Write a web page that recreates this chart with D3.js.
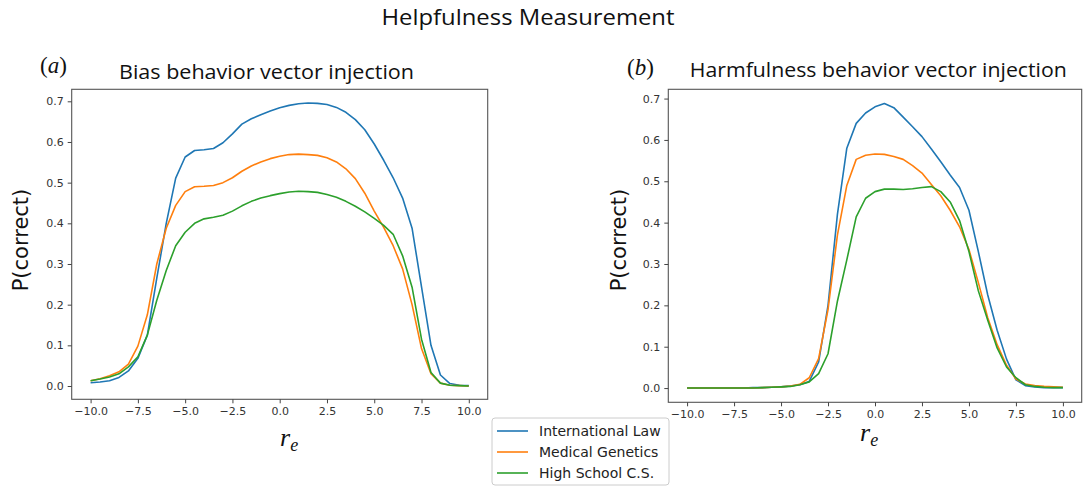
<!DOCTYPE html>
<html><head><meta charset="utf-8">
<script src="https://cdn.jsdelivr.net/npm/d3@7"></script>
<style>body{margin:0;background:#fff}svg{display:block}</style>
</head><body>
<svg id="chart" width="1089" height="487"></svg>
<script>
// ---- data ----
const seriesNames = ["International Law", "Medical Genetics", "High School C.S."];
const seriesColors = ["#1f77b4", "#ff7f0e", "#2ca02c"];
const xTicks = [-10, -7.5, -5, -2.5, 0, 2.5, 5, 7.5, 10];
const yTicks = [0, 0.1, 0.2, 0.3, 0.4, 0.5, 0.6, 0.7];
const re = [-10,-9.5,-9,-8.5,-8,-7.5,-7,-6.5,-6,-5.5,-5,-4.5,-4,-3.5,-3,-2.5,-2,-1.5,-1,-0.5,0,0.5,1,1.5,2,2.5,3,3.5,4,4.5,5,5.5,6,6.5,7,7.5,8,8.5,9,9.5,10];

// (a) Bias behavior vector injection
const biasIntlLaw = [0.008,0.010,0.013,0.021,0.037,0.068,0.125,0.265,0.400,0.511,0.563,0.579,0.581,0.584,0.598,0.620,0.644,0.657,0.667,0.676,0.684,0.690,0.694,0.696,0.695,0.692,0.685,0.673,0.655,0.630,0.595,0.555,0.512,0.462,0.388,0.244,0.100,0.027,0.006,0.002,0.001];
const biasMedGen   = [0.013,0.018,0.025,0.035,0.054,0.098,0.175,0.300,0.388,0.444,0.478,0.490,0.491,0.493,0.500,0.512,0.528,0.541,0.551,0.559,0.565,0.569,0.570,0.569,0.567,0.561,0.551,0.534,0.510,0.474,0.430,0.390,0.345,0.288,0.200,0.092,0.030,0.007,0.002,0.001,0.000];
const biasHSCS     = [0.013,0.017,0.022,0.030,0.047,0.072,0.125,0.211,0.284,0.345,0.378,0.400,0.411,0.415,0.420,0.430,0.443,0.454,0.462,0.468,0.473,0.477,0.479,0.478,0.476,0.471,0.464,0.454,0.442,0.428,0.412,0.395,0.373,0.320,0.243,0.115,0.033,0.007,0.002,0.001,0.000];

// (b) Harmfulness behavior vector injection
const harmIntlLaw = [0.000,0.000,0.000,0.000,0.000,0.000,0.000,0.001,0.001,0.002,0.003,0.005,0.008,0.016,0.063,0.200,0.420,0.580,0.640,0.665,0.680,0.688,0.678,0.655,0.632,0.608,0.578,0.547,0.515,0.485,0.430,0.330,0.225,0.140,0.070,0.020,0.006,0.003,0.001,0.001,0.001];
const harmMedGen   = [0.000,0.000,0.000,0.000,0.000,0.000,0.000,0.000,0.001,0.002,0.003,0.005,0.009,0.025,0.071,0.190,0.370,0.490,0.553,0.563,0.566,0.565,0.560,0.553,0.538,0.520,0.492,0.465,0.430,0.390,0.335,0.255,0.170,0.105,0.055,0.022,0.010,0.006,0.004,0.003,0.002];
const harmHSCS     = [0.000,0.000,0.000,0.000,0.000,0.000,0.000,0.000,0.001,0.002,0.003,0.004,0.008,0.015,0.035,0.083,0.210,0.310,0.414,0.459,0.475,0.481,0.481,0.480,0.482,0.485,0.487,0.475,0.450,0.405,0.330,0.235,0.164,0.097,0.051,0.025,0.008,0.004,0.002,0.001,0.001];

const mainTitle = "Helpfulness Measurement";
const panelTitles = ["Bias behavior vector injection", "Harmfulness behavior vector injection"];
const panelTags = ["a", "b"];
const yLabel = "P(correct)";

// ---- drawing ----
const svg = d3.select("#chart");
svg.append("rect").attr("width",1089).attr("height",487).attr("fill","#fff");

svg.append("text").attr("x", 528).attr("y", 25).attr("text-anchor","middle")
  .attr("font-family","'Open Sans', 'Noto Sans', sans-serif").attr("font-size",21)
  .attr("fill","#111").attr("textLength",293).attr("lengthAdjust","spacingAndGlyphs")
  .text(mainTitle);

const panels = [
  {series:[biasIntlLaw,biasMedGen,biasHSCS], left:71.7, right:487.7, top:89.3, bottom:399.3, yDom:[-0.0327,0.7295],
   title:{x:266.5, y:79, w:295}, tag:{x:40, y:73}, ylab:{x:28, y:240}, xlab:{x:280, y:446}},
  {series:[harmIntlLaw,harmMedGen,harmHSCS], left:668.3, right:1081.7, top:89.3, bottom:402.3, yDom:[-0.0344,0.7224],
   title:{x:878.3, y:77, w:377}, tag:{x:627, y:75}, ylab:{x:626, y:240}, xlab:{x:860, y:441}}
];

panels.forEach((p, pi) => {
  const x = d3.scaleLinear().domain([-11, 11]).range([p.left, p.right]);
  const y = d3.scaleLinear().domain(p.yDom).range([p.bottom, p.top]);
  const g = svg.append("g");

  const clipId = "clip" + pi;
  svg.append("clipPath").attr("id", clipId).append("rect")
    .attr("x", p.left).attr("y", p.top).attr("width", p.right - p.left).attr("height", p.bottom - p.top);

  const line = d3.line().x((d,i) => x(re[i])).y(d => y(d));
  p.series.forEach((s, si) => {
    g.append("path").datum(s).attr("d", line).attr("fill","none")
      .attr("stroke", seriesColors[si]).attr("stroke-width",1.6)
      .attr("stroke-linejoin","round").attr("clip-path", `url(#${clipId})`);
  });

  // frame
  g.append("rect").attr("x", p.left).attr("y", p.top).attr("width", p.right - p.left)
    .attr("height", p.bottom - p.top).attr("fill","none").attr("stroke","#555").attr("stroke-width",1.1);

  const xAxis = d3.axisBottom(x).tickValues(xTicks).tickFormat(d3.format(".1f")).tickSizeOuter(0).tickSize(4).tickPadding(4);
  const yAxis = d3.axisLeft(y).tickValues(yTicks).tickFormat(d3.format(".1f")).tickSizeOuter(0).tickSize(4).tickPadding(4);
  const gx = g.append("g").attr("transform", `translate(0,${p.bottom})`).call(xAxis);
  const gy = g.append("g").attr("transform", `translate(${p.left},0)`).call(yAxis);
  [gx, gy].forEach(a => {
    a.select(".domain").remove();
    a.selectAll("line").attr("stroke","#444");
    a.selectAll("text").attr("font-family","'DejaVu Sans', sans-serif").attr("font-size",11).attr("fill","#333");
  });

  // panel title
  g.append("text").attr("x", p.title.x).attr("y", p.title.y).attr("text-anchor","middle")
    .attr("font-family","'Open Sans', 'Noto Sans', sans-serif").attr("font-size",20).attr("fill","#111")
    .attr("textLength", p.title.w).attr("lengthAdjust","spacingAndGlyphs")
    .text(panelTitles[pi]);

  // tag (a)/(b)
  const tag = g.append("text").attr("x", p.tag.x).attr("y", p.tag.y)
    .attr("font-family","'Liberation Serif', serif").attr("font-size",23).attr("fill","#111");
  tag.append("tspan").text("(");
  tag.append("tspan").attr("font-style","italic").text(panelTags[pi]);
  tag.append("tspan").text(")");

  // y label
  g.append("text").attr("transform", `translate(${p.ylab.x},${p.ylab.y}) rotate(-90)`)
    .attr("text-anchor","middle").attr("font-family","'DejaVu Sans', sans-serif")
    .attr("font-size",21).attr("fill","#111").text(yLabel);

  // x label r_e
  const xl = g.append("text").attr("x", p.xlab.x).attr("y", p.xlab.y)
    .attr("font-family","'Liberation Serif', serif").attr("font-style","italic").attr("fill","#111");
  xl.append("tspan").attr("font-size",26).text("r");
  xl.append("tspan").attr("font-size",18).attr("dy",5).text("e");
});

// legend
const lg = svg.append("g");
lg.append("rect").attr("x",492).attr("y",418).attr("width",177).attr("height",67).attr("rx",3)
  .attr("fill","#fff").attr("stroke","#ccc").attr("stroke-width",1);
seriesNames.forEach((n, i) => {
  const cy = 431 + i * 21;
  lg.append("line").attr("x1",497).attr("x2",528).attr("y1",cy).attr("y2",cy)
    .attr("stroke", seriesColors[i]).attr("stroke-width",1.6);
  lg.append("text").attr("x",539).attr("y",cy + 5).attr("font-family","'DejaVu Sans', sans-serif")
    .attr("font-size",14).attr("fill","#222").text(n);
});
</script>
</body></html>
